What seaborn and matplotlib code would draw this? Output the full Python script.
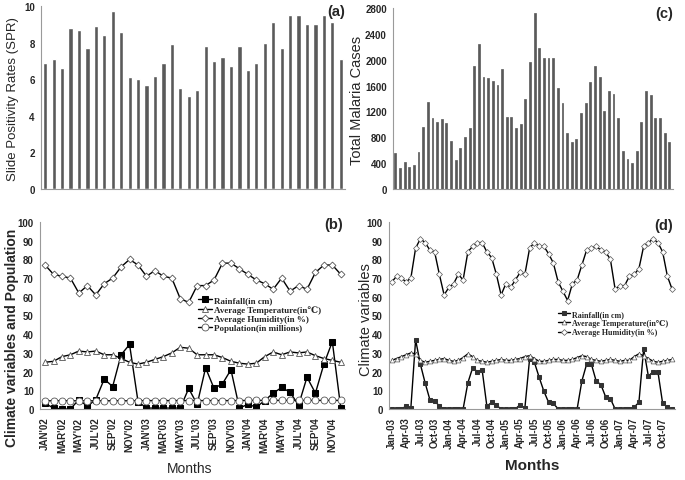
import numpy as np
import pandas as pd
import matplotlib
matplotlib.use('Agg')
import matplotlib.pyplot as plt
import seaborn as sns

sns.set_style('white')
plt.rcParams['font.family'] = ['Liberation Sans', 'DejaVu Sans']

# (a) slide positivity rate, Jan 2002 - Dec 2004
spr = [6.9, 7.1, 6.6, 8.8, 8.7, 7.7, 8.9, 8.4, 9.7, 8.6, 6.1, 6.0,
       5.7, 6.2, 6.9, 7.9, 5.5, 5.1, 5.4, 7.8, 7.0, 7.2, 6.7, 7.8,
       6.5, 6.9, 8.0, 9.1, 7.7, 9.5, 9.5, 9.0, 9.0, 9.5, 9.1, 7.1]

# (c) total malaria cases, Jan 2003 - Dec 2007
cases = [560, 330, 420, 340, 370, 570, 960, 1340, 1100, 1040, 1090, 1020,
         750, 450, 630, 800, 950, 1910, 2240, 1740, 1720, 1670, 1610, 1850,
         1110, 1110, 940, 1000, 1390, 1970, 2720, 2180, 2030, 2030, 2020, 1570,
         1330, 860, 720, 770, 1180, 1330, 1650, 1910, 1730, 1200, 1520, 1470,
         1100, 590, 460, 400, 590, 1040, 1510, 1460, 1100, 1100, 870, 720]

# (b) climate + population, Jan 2002 - Dec 2004
rain_b = [3, 0.5, 0, 0, 5, 1.5, 5, 16, 12, 29, 34.5, 4,
          0.5, 0.5, 0.5, 0.5, 0.5, 11, 2.5, 22, 11, 13.5, 21, 0.5,
          2.5, 1, 4.5, 8.5, 11.5, 9, 2, 17, 8.5, 24, 36, 0.5]
temp_b = [25, 25.5, 28, 29, 31, 30.5, 31, 29, 29, 27, 25, 24,
          25, 26.5, 28, 30, 33, 32.5, 29, 29, 29, 27.5, 25.5, 24.5,
          24, 24.5, 28, 30.5, 29, 30.5, 30, 30.5, 28.5, 27, 26, 25]
hum_b = [77, 72, 71, 70, 62, 66, 61, 67, 70, 76, 80, 77,
         71, 74, 71, 70, 59, 57, 66, 66, 69, 78, 78, 75,
         72, 69, 67, 64, 70, 63, 66, 64, 73, 77, 77, 72]
pop_b = [4.4, 4.4, 4.4, 4.4, 4.4, 4.4, 4.4, 4.4, 4.4, 4.4, 4.4, 4.4,
         4.5, 4.5, 4.5, 4.5, 4.5, 4.5, 4.5, 4.5, 4.5, 4.5, 4.5, 4.5,
         4.6, 4.6, 4.6, 4.6, 4.6, 4.6, 4.6, 4.6, 4.6, 4.6, 4.6, 4.6]
labels_b = ["JAN'02", "MAR'02", "MAY'02", "JUL'02", "SEP'02", "NOV'02",
            "JAN'03", "MAR'03", "MAY'03", "JUL'03", "SEP'03", "NOV'03",
            "JAN'04", "MAR'04", "MAY'04", "JUL'04", "SEP'04", "NOV'04"]

# (d) climate, Jan 2003 - Dec 2007
rain_d = [0, 0, 0, 1.5, 0.5, 37, 24, 14, 5, 4.5, 1.5, 0,
          0, 0, 0, 0, 14, 22, 20, 21, 1.5, 3.5, 2, 0,
          0, 0, 0, 2.3, 0.5, 27, 25, 17, 9.5, 3.5, 3, 0,
          0, 0, 0, 0, 15, 24, 24, 15, 13, 6.5, 5.5, 0,
          0, 0, 0, 1, 3.5, 32, 17.5, 20, 20, 3, 1, 0]
temp_d = [26, 27, 28, 29, 30, 29.5, 26, 25, 25.5, 26, 26.5, 27,
          26, 25.5, 26, 27.5, 29.5, 28, 26, 25.5, 25, 25.5, 26, 26.5,
          26, 26, 26.5, 27, 28, 28.5, 27, 25.5, 25.5, 26, 26.5, 26.5,
          26, 26, 26.5, 27.5, 28.5, 28, 26.5, 26, 25.5, 26, 26.5, 26,
          25.5, 26, 26, 28, 29.5, 28.5, 27, 25.5, 25, 25.5, 26, 26.5]
hum_d = [68, 71, 70, 68, 70, 86, 91, 89, 85, 84, 72, 61,
         65, 67, 72, 69, 84, 87, 89, 89, 84, 81, 72, 61,
         67, 65, 69, 73, 72, 86, 89, 87, 87, 83, 78, 68,
         63, 58, 67, 69, 77, 85, 86, 87, 85, 84, 80, 64,
         66, 66, 71, 72, 75, 87, 89, 91, 89, 84, 71, 64]
labels_d = ["Jan-03", "Apr-03", "Jul-03", "Oct-03", "Jan-04", "Apr-04",
            "Jul-04", "Oct-04", "Jan-05", "Apr-05", "Jul-05", "Oct-05",
            "Jan-06", "Apr-06", "Jul-06", "Oct-06", "Jan-07", "Apr-07",
            "Jul-07", "Oct-07"]

W, H = 685, 481
BAR = '#5a5a5a'
GREY = '#9a9a9a'


def leg_font(size):
    return {'family': ['Liberation Serif', 'DejaVu Serif'],
            'weight': 'bold', 'size': size}


def rect(l, t, r, b):
    return [l / W, 1 - b / H, (r - l) / W, (b - t) / H]


def style(ax):
    sns.despine(ax=ax)
    for s in ['left', 'bottom']:
        ax.spines[s].set_color(GREY)
        ax.spines[s].set_linewidth(0.8)
    ax.tick_params(axis='y', length=2.5, width=0.6, color=GREY, pad=2,
                   labelsize=7)
    for t in ax.get_yticklabels():
        t.set_fontweight('bold')


fig = plt.figure(figsize=(W / 100, H / 100), dpi=100)

# ---- (a) ----
ax_a = fig.add_axes(rect(41, 7, 345, 190))
sns.barplot(x=list(range(len(spr))), y=spr, color=BAR, saturation=1,
            width=0.5, errorbar=None, ax=ax_a)
ax_a.set_xlim(-0.47, 35.4)
ax_a.set_ylim(0, 10)
ax_a.set_yticks(range(0, 11, 2))
ax_a.set_xticks([])
ax_a.set_xticks(np.arange(-0.5, 36, 1), minor=True)
ax_a.tick_params(axis='x', which='minor', length=2.5, width=0.6, color=GREY)
ax_a.set_xlabel('')
style(ax_a)
fig.text(13 / W, 1 - 99 / H, 'Slide Positivity Rates (SPR)', rotation=90,
         ha='center', va='center', fontsize=9.5)
fig.text(336 / W, 1 - 12 / H, '(a)', ha='center', va='center',
         fontsize=10.5, fontweight='bold')

# ---- (c) ----
ax_c = fig.add_axes(rect(393, 9, 673, 190))
sns.barplot(x=list(range(len(cases))), y=cases, color=BAR, saturation=1,
            width=0.4, errorbar=None, edgecolor=BAR, linewidth=0.5, ax=ax_c)
ax_c.set_xlim(-0.3, 59.8)
ax_c.set_ylim(0, 2800)
ax_c.set_yticks(range(0, 2801, 400))
ax_c.set_xticks([])
ax_c.set_xticks(np.arange(-0.5, 60, 1), minor=True)
ax_c.tick_params(axis='x', which='minor', length=2.5, width=0.6, color=GREY)
ax_c.set_xlabel('')
style(ax_c)
fig.text(357 / W, 1 - 100 / H, 'Total Malaria Cases', rotation=90,
         ha='center', va='center', fontsize=10.5)
fig.text(664 / W, 1 - 14 / H, '(c)', ha='center', va='center',
         fontsize=10.5, fontweight='bold')

# ---- (b) ----
ax_b = fig.add_axes(rect(40, 223, 345, 410))
xb = np.arange(len(rain_b))
sns.lineplot(x=xb, y=rain_b, ax=ax_b, color='black', lw=1, marker='s',
             ms=4, mfc='black', mec='black', label='Rainfall(in cm)')
sns.lineplot(x=xb, y=temp_b, ax=ax_b, color='black', lw=1, marker='^',
             ms=4.5, mfc='white', mec='#555555', mew=0.6,
             label='Average Temperature(in\u2103)')
sns.lineplot(x=xb, y=hum_b, ax=ax_b, color='black', lw=1, marker='D',
             ms=3.5, mfc='white', mec='#555555', mew=0.6,
             label='Average Humidity(in %)')
sns.lineplot(x=xb, y=pop_b, ax=ax_b, color='black', lw=1, marker='o',
             ms=5, mfc='white', mec='#555555', mew=0.6,
             label='Population(in millions)')
ax_b.set_xlim(-0.6, 35.5)
ax_b.set_ylim(0, 100)
ax_b.set_yticks(range(0, 101, 10))
ax_b.set_xticks(xb)
ax_b.set_xticklabels([labels_b[i // 2] if i % 2 == 0 else '' for i in xb],
                     rotation=90, fontsize=7, fontweight='bold')
ax_b.tick_params(axis='x', length=2.5, width=0.6, color=GREY, pad=3)
style(ax_b)
ax_b.legend(loc='upper left', bbox_to_anchor=(198 / W, 1 - 297 / H),
            bbox_transform=fig.transFigure, frameon=False, prop=leg_font(6.5),
            handlelength=1.5, handletextpad=0.3, labelspacing=0.1,
            borderpad=0, borderaxespad=0)
fig.text(12 / W, 1 - 338 / H, 'Climate variables and Population',
         rotation=90, ha='center', va='center', fontsize=10,
         fontweight='bold')
fig.text(190 / W, 1 - 469 / H, 'Months', ha='center', va='center',
         fontsize=10)
fig.text(334 / W, 1 - 225 / H, '(b)', ha='center', va='center',
         fontsize=10.5, fontweight='bold')

# ---- (d) ----
ax_d = fig.add_axes(rect(389, 223, 675, 410))
xd = np.arange(len(rain_d))
sns.lineplot(x=xd, y=rain_d, ax=ax_d, color='black', lw=1, marker='s',
             ms=3, mfc='#333333', mec='#333333', label='Rainfall(in cm)')
sns.lineplot(x=xd, y=temp_d, ax=ax_d, color='black', lw=1, marker='^',
             ms=3.5, mfc='white', mec='#555555', mew=0.5,
             label='Average Temperature(in\u2103)')
sns.lineplot(x=xd, y=hum_d, ax=ax_d, color='black', lw=1, marker='D',
             ms=3, mfc='white', mec='#555555', mew=0.5,
             label='Average Humidity(in %)')
ax_d.set_xlim(-0.6, 59.6)
ax_d.set_ylim(0, 100)
ax_d.set_yticks(range(0, 101, 10))
ax_d.set_xticks(xd)
ax_d.set_xticklabels([labels_d[i // 3] if i % 3 == 0 else '' for i in xd],
                     rotation=90, fontsize=7, fontweight='bold')
ax_d.tick_params(axis='x', length=2.5, width=0.6, color=GREY, pad=3)
style(ax_d)
ax_d.legend(loc='upper left', bbox_to_anchor=(558 / W, 1 - 311 / H),
            bbox_transform=fig.transFigure, frameon=False, prop=leg_font(5.8),
            handlelength=1.5, handletextpad=0.3, labelspacing=0.15,
            borderpad=0, borderaxespad=0)
fig.text(366 / W, 1 - 320 / H, 'Climate variables', rotation=90,
         ha='center', va='center', fontsize=10.5)
fig.text(532 / W, 1 - 466 / H, 'Months', ha='center', va='center',
         fontsize=11, fontweight='bold')
fig.text(664 / W, 1 - 226 / H, '(d)', ha='center', va='center',
         fontsize=10.5, fontweight='bold')

fig.savefig('out.png', dpi=100)
